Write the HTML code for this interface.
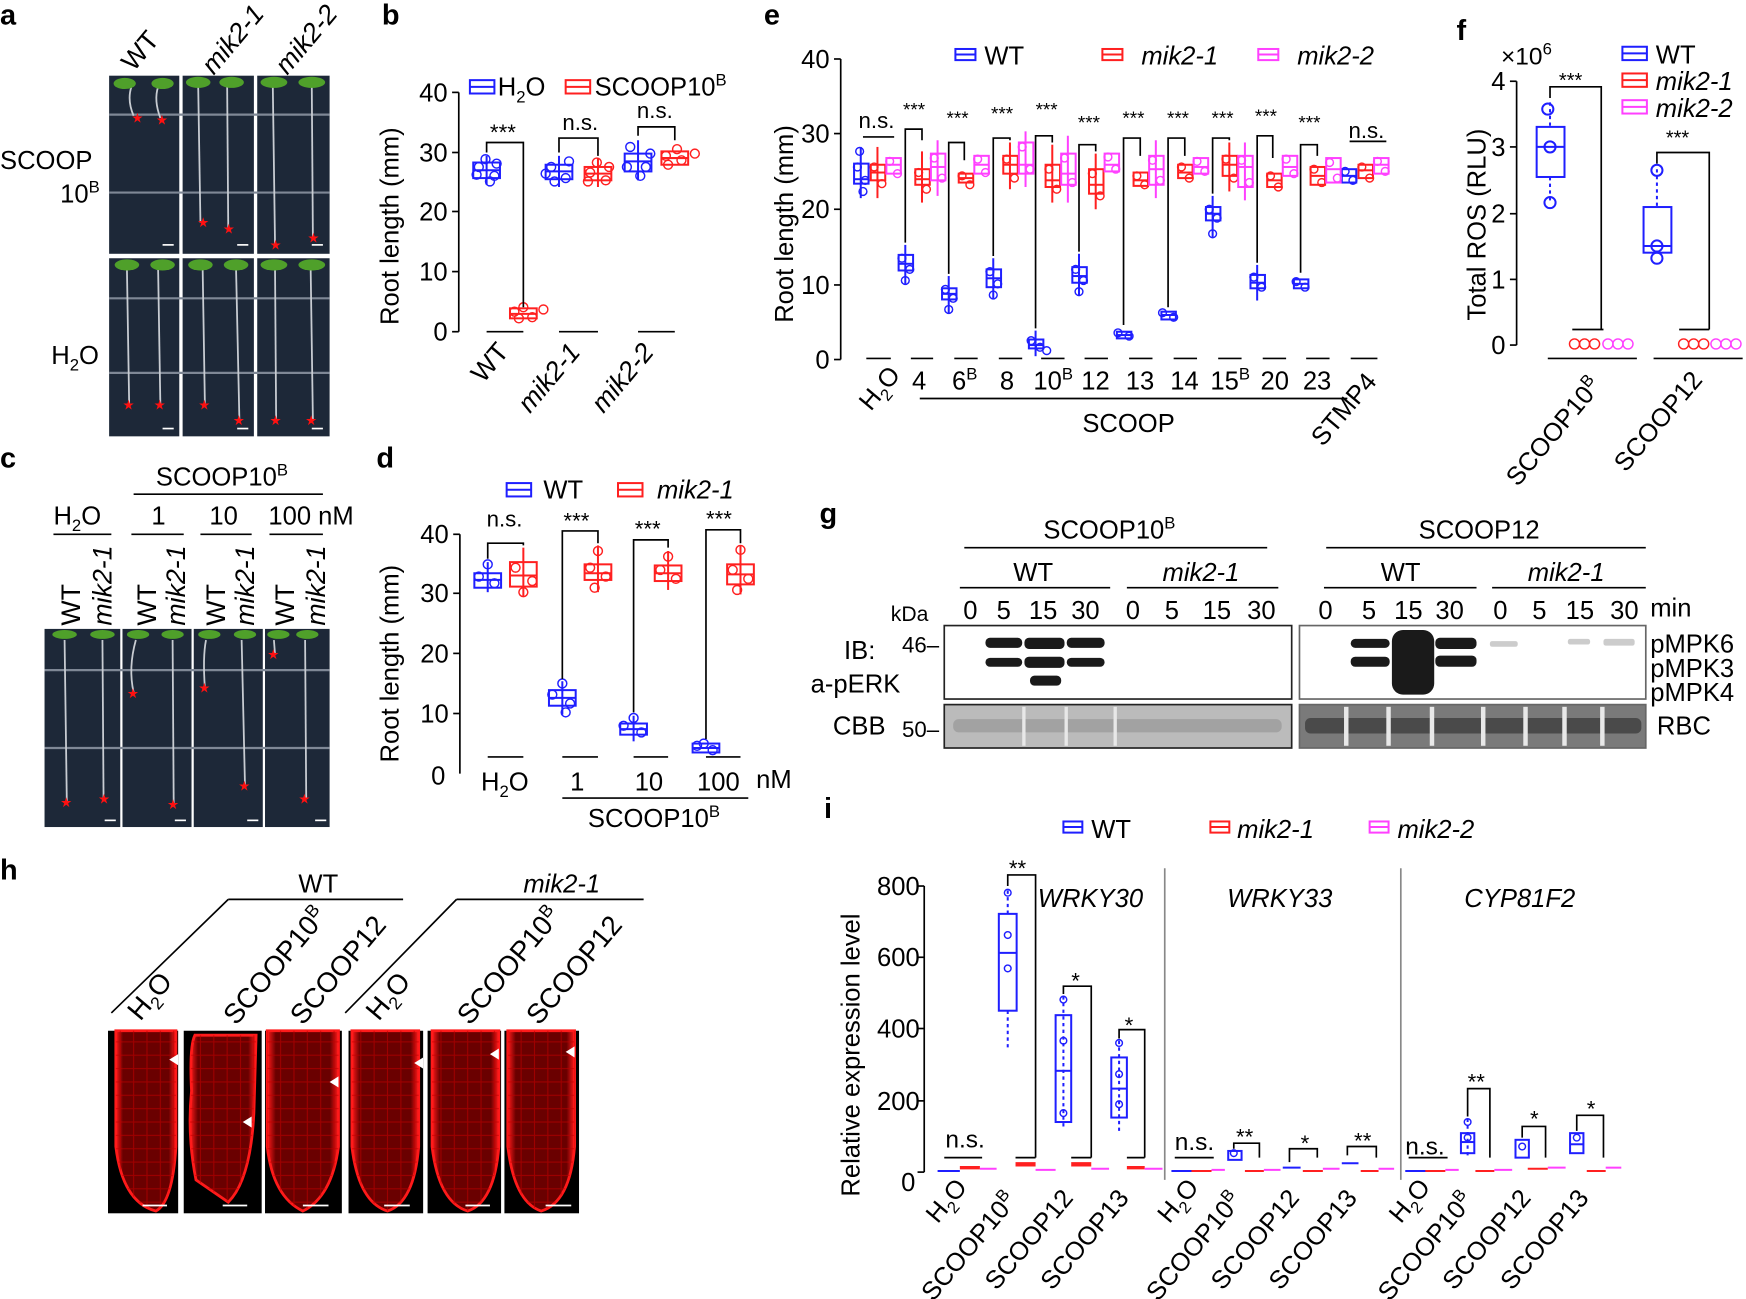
<!DOCTYPE html>
<html><head><meta charset="utf-8"><style>
html,body{margin:0;padding:0;background:#fff}
svg{display:block}
text{font-family:"Liberation Sans",Arial,sans-serif;fill:#000}
.bl{font-weight:bold;font-size:26px}
.ax{font-size:23px}
.sm{font-size:19px}
.it{font-style:italic}
.b{stroke:#1f1fff;fill:none;stroke-width:1.8}
.r{stroke:#ff2020;fill:none;stroke-width:1.8}
.m{stroke:#ff40ff;fill:none;stroke-width:1.8}
.k{stroke:#000;fill:none;stroke-width:1.5}
.g{stroke:#888;fill:none;stroke-width:1.5}
.bc circle{stroke:#1f1fff;fill:none;stroke-width:1.3}
.rc circle{stroke:#ff2020;fill:none;stroke-width:1.3}
.mc circle{stroke:#ff40ff;fill:none;stroke-width:1.3}
</style></head><body>
<svg width="1746" height="1299" viewBox="0 0 1568 1167" preserveAspectRatio="none">
<defs>
<linearGradient id="rg" x1="0" x2="1"><stop offset="0" stop-color="#ff1a1a"/><stop offset=".12" stop-color="#6a0000"/><stop offset=".88" stop-color="#6a0000"/><stop offset="1" stop-color="#ff1a1a"/></linearGradient>
<pattern id="cells" width="12" height="12" patternUnits="userSpaceOnUse"><rect width="12" height="12" fill="none" stroke="#c00000" stroke-width="1"/></pattern>
</defs>
<!-- panel letters -->
<text class="bl" x="0" y="22">a</text><text class="bl" x="343" y="22">b</text><text class="bl" x="686" y="22">e</text><text class="bl" x="1308" y="36">f</text>
<text class="bl" x="0" y="420">c</text><text class="bl" x="338" y="420">d</text><text class="bl" x="736" y="470">g</text>
<text class="bl" x="0" y="790">h</text><text class="bl" x="740" y="735">i</text>

<!-- panel a -->
<g class="it" font-size="24"><text transform="translate(120,65) rotate(-50)" style="font-style:normal">WT</text><text transform="translate(192,68) rotate(-50)">mik2-1</text><text transform="translate(258,68) rotate(-50)">mik2-2</text></g>
<text class="ax" x="0" y="152">SCOOP</text><text class="ax" x="54" y="182">10<tspan font-size="15" dy="-9">B</tspan></text>
<text class="ax" x="46" y="327">H<tspan font-size="15" dy="6">2</tspan><tspan dy="-6">O</tspan></text>
<g fill="#1d2838">
<rect x="98" y="68" width="63" height="160"/><rect x="164" y="68" width="64" height="160"/><rect x="231" y="68" width="65" height="160"/>
<rect x="98" y="232" width="63" height="160"/><rect x="164" y="232" width="64" height="160"/><rect x="231" y="232" width="65" height="160"/>
<rect x="40" y="565" width="68" height="178"/><rect x="110" y="565" width="62" height="178"/><rect x="174" y="565" width="62" height="178"/><rect x="238" y="565" width="58" height="178"/>
</g>
<g stroke="#7f8896" stroke-width="2">
<line x1="98" y1="103" x2="296" y2="103"/><line x1="98" y1="173" x2="296" y2="173"/>
<line x1="98" y1="268" x2="296" y2="268"/><line x1="98" y1="335" x2="296" y2="335"/>
<line x1="40" y1="602" x2="296" y2="602"/><line x1="40" y1="672" x2="296" y2="672"/>
</g>
<g stroke="#c8ccd2" stroke-width="1.6" fill="none">
<path d="M118 78 Q114 90 120 104"/><path d="M142 78 Q138 90 144 106"/>
<path d="M178 78 L180 200"/><path d="M204 78 L205 208"/><path d="M245 78 L247 220"/><path d="M280 78 L281 214"/>
<path d="M114 242 L116 363"/><path d="M142 242 L144 363"/><path d="M182 242 L184 363"/><path d="M212 242 L215 378"/><path d="M247 242 L248 378"/><path d="M279 242 L281 378"/>
<path d="M58 575 L60 720"/><path d="M92 575 L93 718"/><path d="M122 575 Q115 600 120 622"/><path d="M155 575 L156 723"/><path d="M185 575 Q182 590 184 618"/><path d="M217 575 L220 705"/><path d="M246 575 L247 588"/><path d="M274 575 L275 718"/>
</g>
<g fill="#4fa02a">
<ellipse cx="112" cy="75" rx="10" ry="5"/><ellipse cx="146" cy="75" rx="10" ry="5"/><ellipse cx="178" cy="74" rx="11" ry="5"/><ellipse cx="208" cy="74" rx="11" ry="5"/><ellipse cx="246" cy="74" rx="12" ry="5"/><ellipse cx="280" cy="74" rx="12" ry="5"/>
<ellipse cx="114" cy="238" rx="11" ry="5"/><ellipse cx="146" cy="238" rx="11" ry="5"/><ellipse cx="180" cy="238" rx="11" ry="5"/><ellipse cx="212" cy="238" rx="11" ry="5"/><ellipse cx="246" cy="238" rx="12" ry="5"/><ellipse cx="280" cy="238" rx="12" ry="5"/>
<ellipse cx="58" cy="570" rx="11" ry="4"/><ellipse cx="92" cy="570" rx="11" ry="4"/><ellipse cx="124" cy="570" rx="10" ry="4"/><ellipse cx="155" cy="570" rx="10" ry="4"/><ellipse cx="188" cy="570" rx="10" ry="4"/><ellipse cx="220" cy="570" rx="10" ry="4"/><ellipse cx="250" cy="570" rx="10" ry="4"/><ellipse cx="276" cy="570" rx="10" ry="4"/>
</g>
<g font-size="12">
<text x="118" y="110" style="fill:#f11">★</text><text x="140" y="112" style="fill:#f11">★</text><text x="177" y="204" style="fill:#f11">★</text><text x="200" y="210" style="fill:#f11">★</text><text x="242" y="224" style="fill:#f11">★</text><text x="276" y="218" style="fill:#f11">★</text>
<text x="110" y="368" style="fill:#f11">★</text><text x="138" y="368" style="fill:#f11">★</text><text x="178" y="368" style="fill:#f11">★</text><text x="209" y="382" style="fill:#f11">★</text><text x="242" y="382" style="fill:#f11">★</text><text x="274" y="382" style="fill:#f11">★</text>
<text x="54" y="725" style="fill:#f11">★</text><text x="88" y="722" style="fill:#f11">★</text><text x="114" y="627" style="fill:#f11">★</text><text x="150" y="727" style="fill:#f11">★</text><text x="178" y="622" style="fill:#f11">★</text><text x="214" y="710" style="fill:#f11">★</text><text x="240" y="592" style="fill:#f11">★</text><text x="268" y="722" style="fill:#f11">★</text>
</g>
<g stroke="#fff" stroke-width="1.5"><line x1="146" y1="220" x2="156" y2="220"/><line x1="213" y1="220" x2="223" y2="220"/><line x1="280" y1="220" x2="290" y2="220"/><line x1="146" y1="385" x2="156" y2="385"/><line x1="213" y1="385" x2="223" y2="385"/><line x1="280" y1="385" x2="290" y2="385"/><line x1="94" y1="737" x2="104" y2="737"/><line x1="157" y1="737" x2="167" y2="737"/><line x1="222" y1="737" x2="232" y2="737"/><line x1="283" y1="737" x2="293" y2="737"/></g>

<!-- panel c labels -->
<text class="ax" x="140" y="436">SCOOP10<tspan font-size="15" dy="-9">B</tspan></text>
<line class="k" x1="120" y1="444" x2="290" y2="444"/>
<text class="ax" x="48" y="471">H<tspan font-size="15" dy="6">2</tspan><tspan dy="-6">O</tspan></text>
<text class="ax" x="136" y="471">1</text><text class="ax" x="188" y="471">10</text><text class="ax" x="241" y="471">100 nM</text>
<g class="k"><line x1="48" y1="480" x2="100" y2="480"/><line x1="118" y1="480" x2="165" y2="480"/><line x1="180" y1="480" x2="226" y2="480"/><line x1="242" y1="480" x2="290" y2="480"/></g>
<g font-size="24"><text transform="translate(72,562) rotate(-90)">WT</text><text class="it" transform="translate(100,562) rotate(-90)">mik2-1</text>
<text transform="translate(140,562) rotate(-90)">WT</text><text class="it" transform="translate(166,562) rotate(-90)">mik2-1</text>
<text transform="translate(202,562) rotate(-90)">WT</text><text class="it" transform="translate(228,562) rotate(-90)">mik2-1</text>
<text transform="translate(264,562) rotate(-90)">WT</text><text class="it" transform="translate(292,562) rotate(-90)">mik2-1</text></g>

<!-- panel b -->
<text class="ax" transform="translate(358,292) rotate(-90)">Root length (mm)</text>
<line class="k" x1="412" y1="83" x2="412" y2="298"/>
<g class="k"><line x1="406" y1="83" x2="412" y2="83"/><line x1="406" y1="137" x2="412" y2="137"/><line x1="406" y1="190" x2="412" y2="190"/><line x1="406" y1="244" x2="412" y2="244"/><line x1="406" y1="298" x2="412" y2="298"/></g>
<g class="ax" text-anchor="end"><text x="402" y="91">40</text><text x="402" y="145">30</text><text x="402" y="198">20</text><text x="402" y="252">10</text><text x="402" y="306">0</text></g>
<rect x="422" y="72" width="22" height="12" class="b"/><line class="b" x1="422" y1="78" x2="444" y2="78"/><text class="ax" x="447" y="86">H<tspan font-size="15" dy="6">2</tspan><tspan dy="-6">O</tspan></text>
<rect x="508" y="72" width="22" height="12" class="r"/><line class="r" x1="508" y1="78" x2="530" y2="78"/><text class="ax" x="534" y="86">SCOOP10<tspan font-size="15" dy="-9">B</tspan></text>
<g class="k"><line x1="437" y1="298" x2="470" y2="298"/><line x1="502" y1="298" x2="537" y2="298"/><line x1="573" y1="298" x2="606" y2="298"/></g>
<g class="b"><rect x="425" y="146" width="24" height="14"/><line x1="425" y1="153" x2="449" y2="153"/><line x1="437" y1="140" x2="437" y2="166"/>
<rect x="490" y="148" width="24" height="13"/><line x1="490" y1="154" x2="514" y2="154"/><line x1="502" y1="140" x2="502" y2="168"/>
<rect x="561" y="138" width="24" height="16"/><line x1="561" y1="145" x2="585" y2="145"/><line x1="573" y1="126" x2="573" y2="162"/></g>
<g class="r"><rect x="458" y="277" width="24" height="9"/><line x1="458" y1="282" x2="482" y2="282"/>
<rect x="525" y="150" width="24" height="12"/><line x1="525" y1="156" x2="549" y2="156"/><line x1="537" y1="142" x2="537" y2="168"/>
<rect x="594" y="136" width="24" height="12"/><line x1="594" y1="142" x2="618" y2="142"/></g>
<g class="bc"><circle cx="430" cy="150" r="4"/><circle cx="444" cy="158" r="4"/><circle cx="436" cy="143" r="4"/><circle cx="440" cy="163" r="4"/><circle cx="428" cy="157" r="4"/><circle cx="446" cy="147" r="4"/><circle cx="495" cy="150" r="4"/><circle cx="508" cy="160" r="4"/><circle cx="498" cy="163" r="4"/><circle cx="511" cy="145" r="4"/><circle cx="490" cy="156" r="4"/><circle cx="566" cy="132" r="4"/><circle cx="580" cy="150" r="4"/><circle cx="563" cy="150" r="4"/><circle cx="584" cy="138" r="4"/><circle cx="575" cy="158" r="4"/></g>
<g class="rc"><circle cx="462" cy="280" r="4"/><circle cx="478" cy="285" r="4"/><circle cx="488" cy="278" r="4"/><circle cx="470" cy="276" r="4"/><circle cx="466" cy="286" r="4"/><circle cx="530" cy="155" r="4"/><circle cx="544" cy="162" r="4"/><circle cx="528" cy="163" r="4"/><circle cx="547" cy="150" r="4"/><circle cx="536" cy="146" r="4"/><circle cx="598" cy="140" r="4"/><circle cx="612" cy="144" r="4"/><circle cx="624" cy="138" r="4"/><circle cx="600" cy="148" r="4"/><circle cx="608" cy="134" r="4"/></g>
<g class="k"><path d="M437 137 V128 H470 V276"/><path d="M502 137 V124 H537 V140"/><path d="M573 122 V114 H606 V126"/></g>
<g font-size="20"><text x="440" y="126">***</text><text x="505" y="117">n.s.</text><text x="572" y="106">n.s.</text></g>
<g font-size="24"><text transform="translate(434,345) rotate(-50)">WT</text><text class="it" transform="translate(476,372) rotate(-50)">mik2-1</text><text class="it" transform="translate(542,372) rotate(-50)">mik2-2</text></g>

<!-- panel d -->
<text class="ax" transform="translate(358,685) rotate(-90)">Root length (mm)</text>
<line class="k" x1="413" y1="480" x2="413" y2="695"/>
<g class="k"><line x1="407" y1="480" x2="413" y2="480"/><line x1="407" y1="533" x2="413" y2="533"/><line x1="407" y1="587" x2="413" y2="587"/><line x1="407" y1="641" x2="413" y2="641"/></g>
<g class="ax" text-anchor="end"><text x="403" y="488">40</text><text x="403" y="541">30</text><text x="403" y="595">20</text><text x="403" y="649">10</text><text x="400" y="705">0</text></g>
<rect x="455" y="434" width="22" height="12" class="b"/><line class="b" x1="455" y1="440" x2="477" y2="440"/><text class="ax" x="488" y="448">WT</text>
<rect x="555" y="434" width="22" height="12" class="r"/><line class="r" x1="555" y1="440" x2="577" y2="440"/><text class="ax it" x="590" y="448">mik2-1</text>
<g class="k"><line x1="438" y1="680" x2="470" y2="680"/><line x1="505" y1="680" x2="537" y2="680"/><line x1="569" y1="680" x2="600" y2="680"/><line x1="634" y1="680" x2="665" y2="680"/></g>
<g class="b"><rect x="426" y="515" width="24" height="13"/><line x1="426" y1="521" x2="450" y2="521"/><line x1="438" y1="505" x2="438" y2="532"/>
<rect x="493" y="620" width="24" height="14"/><line x1="493" y1="627" x2="517" y2="627"/><line x1="505" y1="612" x2="505" y2="642"/>
<rect x="557" y="650" width="24" height="10"/><line x1="557" y1="655" x2="581" y2="655"/><line x1="569" y1="643" x2="569" y2="666"/>
<rect x="622" y="668" width="24" height="8"/><line x1="622" y1="672" x2="646" y2="672"/></g>
<g class="r"><rect x="458" y="505" width="24" height="22"/><line x1="458" y1="517" x2="482" y2="517"/><line x1="470" y1="492" x2="470" y2="536"/>
<rect x="525" y="507" width="24" height="14"/><line x1="525" y1="515" x2="549" y2="515"/><line x1="537" y1="490" x2="537" y2="532"/>
<rect x="588" y="508" width="24" height="14"/><line x1="588" y1="515" x2="612" y2="515"/><line x1="600" y1="495" x2="600" y2="530"/>
<rect x="653" y="507" width="24" height="18"/><line x1="653" y1="516" x2="677" y2="516"/><line x1="665" y1="490" x2="665" y2="534"/></g>
<g class="bc"><circle cx="430" cy="518" r="4"/><circle cx="444" cy="524" r="4"/><circle cx="438" cy="507" r="4"/><circle cx="496" cy="624" r="4"/><circle cx="512" cy="632" r="4"/><circle cx="505" cy="614" r="4"/><circle cx="508" cy="640" r="4"/><circle cx="560" cy="652" r="4"/><circle cx="576" cy="658" r="4"/><circle cx="569" cy="645" r="4"/><circle cx="626" cy="670" r="4"/><circle cx="640" cy="674" r="4"/><circle cx="632" cy="668" r="4"/></g>
<g class="rc"><circle cx="463" cy="510" r="4"/><circle cx="478" cy="522" r="4"/><circle cx="470" cy="532" r="4"/><circle cx="530" cy="510" r="4"/><circle cx="544" cy="518" r="4"/><circle cx="537" cy="495" r="4"/><circle cx="534" cy="528" r="4"/><circle cx="593" cy="512" r="4"/><circle cx="607" cy="520" r="4"/><circle cx="600" cy="500" r="4"/><circle cx="658" cy="512" r="4"/><circle cx="672" cy="520" r="4"/><circle cx="665" cy="494" r="4"/><circle cx="662" cy="530" r="4"/></g>
<g class="k"><path d="M438 502 V488 H470 V490"/><path d="M505 610 V477 H537 V488"/><path d="M569 640 V485 H600 V492"/><path d="M634 664 V476 H665 V488"/></g>
<g font-size="20"><text x="437" y="473">n.s.</text><text x="506" y="475">***</text><text x="570" y="482">***</text><text x="634" y="473">***</text></g>
<text class="ax" x="432" y="710">H<tspan font-size="15" dy="6">2</tspan><tspan dy="-6">O</tspan></text>
<text class="ax" x="512" y="710">1</text><text class="ax" x="570" y="710">10</text><text class="ax" x="626" y="710">100</text><text class="ax" x="679" y="708">nM</text>
<line class="k" x1="505" y1="717" x2="672" y2="717"/>
<text class="ax" x="528" y="743">SCOOP10<tspan font-size="15" dy="-9">B</tspan></text>

<!-- panel e -->
<text class="ax" transform="translate(712,290) rotate(-90)">Root length (mm)</text>
<line class="k" x1="755" y1="53" x2="755" y2="323"/>
<g class="k"><line x1="749" y1="53" x2="755" y2="53"/><line x1="749" y1="120" x2="755" y2="120"/><line x1="749" y1="188" x2="755" y2="188"/><line x1="749" y1="256" x2="755" y2="256"/><line x1="749" y1="323" x2="755" y2="323"/></g>
<g class="ax" text-anchor="end"><text x="745" y="61">40</text><text x="745" y="128">30</text><text x="745" y="196">20</text><text x="745" y="264">10</text><text x="745" y="331">0</text></g>
<rect x="858" y="44" width="18" height="10" class="b"/><line class="b" x1="858" y1="49" x2="876" y2="49"/><text class="ax" x="884" y="58">WT</text>
<rect x="990" y="44" width="18" height="10" class="r"/><line class="r" x1="990" y1="49" x2="1008" y2="49"/><text class="ax it" x="1025" y="58">mik2-1</text>
<rect x="1130" y="44" width="18" height="10" class="m"/><line class="m" x1="1130" y1="49" x2="1148" y2="49"/><text class="ax it" x="1165" y="58">mik2-2</text>
<g class="b">
<rect x="767" y="147" width="13" height="18"/><line x1="767" y1="161" x2="780" y2="161"/><line x1="773" y1="132" x2="773" y2="178"/>
<rect x="807" y="229" width="13" height="14"/><line x1="807" y1="237" x2="820" y2="237"/><line x1="813" y1="220" x2="813" y2="255"/>
<rect x="846" y="259" width="13" height="10"/><line x1="846" y1="264" x2="859" y2="264"/><line x1="852" y1="248" x2="852" y2="282"/>
<rect x="886" y="242" width="13" height="16"/><line x1="886" y1="250" x2="899" y2="250"/><line x1="892" y1="232" x2="892" y2="268"/>
<rect x="924" y="305" width="13" height="8"/><line x1="924" y1="310" x2="937" y2="310"/><line x1="930" y1="297" x2="930" y2="320"/>
<rect x="963" y="240" width="13" height="14"/><line x1="963" y1="248" x2="976" y2="248"/><line x1="969" y1="228" x2="969" y2="266"/>
<rect x="1003" y="298" width="13" height="6"/><line x1="1003" y1="301" x2="1016" y2="301"/>
<rect x="1043" y="280" width="13" height="7"/><line x1="1043" y1="283" x2="1056" y2="283"/>
<rect x="1083" y="186" width="13" height="12"/><line x1="1083" y1="192" x2="1096" y2="192"/><line x1="1089" y1="176" x2="1089" y2="214"/>
<rect x="1123" y="247" width="13" height="12"/><line x1="1123" y1="254" x2="1136" y2="254"/><line x1="1129" y1="238" x2="1129" y2="270"/>
<rect x="1162" y="251" width="13" height="8"/><line x1="1162" y1="255" x2="1175" y2="255"/>
<rect x="1205" y="152" width="13" height="12"/><line x1="1205" y1="158" x2="1218" y2="158"/>
</g>
<g class="bc">
<circle cx="770" cy="150" r="3.5"/><circle cx="777" cy="162" r="3.5"/><circle cx="772" cy="136" r="3.5"/><circle cx="775" cy="172" r="3.5"/>
<circle cx="810" cy="232" r="3.5"/><circle cx="817" cy="242" r="3.5"/><circle cx="813" cy="252" r="3.5"/>
<circle cx="849" cy="260" r="3.5"/><circle cx="856" cy="268" r="3.5"/><circle cx="852" cy="278" r="3.5"/>
<circle cx="889" cy="244" r="3.5"/><circle cx="896" cy="255" r="3.5"/><circle cx="892" cy="265" r="3.5"/>
<circle cx="926" cy="306" r="3.5"/><circle cx="934" cy="312" r="3.5"/><circle cx="940" cy="315" r="3.5"/>
<circle cx="966" cy="242" r="3.5"/><circle cx="973" cy="252" r="3.5"/><circle cx="969" cy="262" r="3.5"/>
<circle cx="1004" cy="299" r="3.5"/><circle cx="1014" cy="302" r="3.5"/><circle cx="1044" cy="281" r="3.5"/><circle cx="1054" cy="285" r="3.5"/>
<circle cx="1086" cy="188" r="3.5"/><circle cx="1093" cy="196" r="3.5"/><circle cx="1089" cy="210" r="3.5"/>
<circle cx="1126" cy="249" r="3.5"/><circle cx="1133" cy="258" r="3.5"/><circle cx="1164" cy="253" r="3.5"/><circle cx="1172" cy="258" r="3.5"/>
<circle cx="1208" cy="154" r="3.5"/><circle cx="1215" cy="162" r="3.5"/></g>
<g class="r">
<rect x="782" y="148" width="13" height="14"/><line x1="782" y1="155" x2="795" y2="155"/><line x1="788" y1="132" x2="788" y2="178"/>
<rect x="822" y="152" width="13" height="14"/><line x1="822" y1="161" x2="835" y2="161"/><line x1="828" y1="136" x2="828" y2="182"/>
<rect x="861" y="156" width="13" height="8"/><line x1="861" y1="160" x2="874" y2="160"/>
<rect x="901" y="140" width="13" height="16"/><line x1="901" y1="148" x2="914" y2="148"/><line x1="907" y1="128" x2="907" y2="170"/>
<rect x="939" y="148" width="13" height="20"/><line x1="939" y1="162" x2="952" y2="162"/><line x1="945" y1="130" x2="945" y2="182"/>
<rect x="978" y="152" width="13" height="22"/><line x1="978" y1="166" x2="991" y2="166"/><line x1="984" y1="138" x2="984" y2="188"/>
<rect x="1018" y="155" width="13" height="12"/><line x1="1018" y1="162" x2="1031" y2="162"/>
<rect x="1058" y="148" width="13" height="12"/><line x1="1058" y1="155" x2="1071" y2="155"/>
<rect x="1098" y="140" width="13" height="18"/><line x1="1098" y1="148" x2="1111" y2="148"/><line x1="1104" y1="128" x2="1104" y2="172"/>
<rect x="1138" y="156" width="13" height="12"/><line x1="1138" y1="162" x2="1151" y2="162"/>
<rect x="1177" y="150" width="13" height="16"/><line x1="1177" y1="158" x2="1190" y2="158"/>
<rect x="1220" y="148" width="13" height="12"/><line x1="1220" y1="153" x2="1233" y2="153"/>
</g>
<g class="rc">
<circle cx="785" cy="150" r="3.5"/><circle cx="792" cy="165" r="3.5"/><circle cx="825" cy="155" r="3.5"/><circle cx="832" cy="170" r="3.5"/><circle cx="864" cy="158" r="3.5"/><circle cx="871" cy="166" r="3.5"/>
<circle cx="904" cy="143" r="3.5"/><circle cx="911" cy="160" r="3.5"/><circle cx="942" cy="152" r="3.5"/><circle cx="949" cy="170" r="3.5"/><circle cx="981" cy="156" r="3.5"/><circle cx="988" cy="176" r="3.5"/>
<circle cx="1021" cy="158" r="3.5"/><circle cx="1028" cy="166" r="3.5"/><circle cx="1061" cy="150" r="3.5"/><circle cx="1068" cy="160" r="3.5"/><circle cx="1101" cy="143" r="3.5"/><circle cx="1108" cy="160" r="3.5"/>
<circle cx="1141" cy="158" r="3.5"/><circle cx="1148" cy="168" r="3.5"/><circle cx="1180" cy="152" r="3.5"/><circle cx="1187" cy="164" r="3.5"/><circle cx="1223" cy="150" r="3.5"/><circle cx="1230" cy="160" r="3.5"/></g>
<g class="m">
<rect x="796" y="142" width="13" height="14"/><line x1="796" y1="148" x2="809" y2="148"/>
<rect x="836" y="138" width="13" height="24"/><line x1="836" y1="150" x2="849" y2="150"/><line x1="842" y1="126" x2="842" y2="176"/>
<rect x="875" y="140" width="13" height="16"/><line x1="875" y1="148" x2="888" y2="148"/>
<rect x="915" y="128" width="13" height="28"/><line x1="915" y1="148" x2="928" y2="148"/><line x1="921" y1="118" x2="921" y2="168"/>
<rect x="953" y="138" width="13" height="28"/><line x1="953" y1="156" x2="966" y2="156"/><line x1="959" y1="122" x2="959" y2="182"/>
<rect x="992" y="138" width="13" height="16"/><line x1="992" y1="148" x2="1005" y2="148"/>
<rect x="1032" y="140" width="13" height="26"/><line x1="1032" y1="152" x2="1045" y2="152"/><line x1="1038" y1="126" x2="1038" y2="178"/>
<rect x="1072" y="142" width="13" height="14"/><line x1="1072" y1="150" x2="1085" y2="150"/>
<rect x="1112" y="140" width="13" height="28"/><line x1="1112" y1="150" x2="1125" y2="150"/><line x1="1118" y1="128" x2="1118" y2="180"/>
<rect x="1152" y="140" width="13" height="18"/><line x1="1152" y1="150" x2="1165" y2="150"/>
<rect x="1191" y="142" width="13" height="22"/><line x1="1191" y1="152" x2="1204" y2="152"/>
<rect x="1234" y="142" width="13" height="14"/><line x1="1234" y1="148" x2="1247" y2="148"/>
</g>
<g class="mc">
<circle cx="799" cy="145" r="3.5"/><circle cx="806" cy="156" r="3.5"/><circle cx="839" cy="142" r="3.5"/><circle cx="846" cy="160" r="3.5"/><circle cx="878" cy="143" r="3.5"/><circle cx="885" cy="155" r="3.5"/>
<circle cx="918" cy="132" r="3.5"/><circle cx="925" cy="152" r="3.5"/><circle cx="956" cy="142" r="3.5"/><circle cx="963" cy="164" r="3.5"/><circle cx="995" cy="141" r="3.5"/><circle cx="1002" cy="152" r="3.5"/>
<circle cx="1035" cy="144" r="3.5"/><circle cx="1042" cy="162" r="3.5"/><circle cx="1075" cy="145" r="3.5"/><circle cx="1082" cy="154" r="3.5"/><circle cx="1115" cy="144" r="3.5"/><circle cx="1122" cy="164" r="3.5"/>
<circle cx="1155" cy="143" r="3.5"/><circle cx="1162" cy="156" r="3.5"/><circle cx="1194" cy="146" r="3.5"/><circle cx="1201" cy="160" r="3.5"/><circle cx="1237" cy="145" r="3.5"/><circle cx="1244" cy="154" r="3.5"/></g>
<g class="k">
<path d="M813 218 V116 H828 V126"/><path d="M852 246 V128 H866 V144"/><path d="M892 230 V124 H907 V126"/><path d="M930 295 V122 H945 V128"/>
<path d="M969 226 V130 H984 V136"/><path d="M1009 292 V124 H1024 V140"/><path d="M1049 276 V124 H1064 V140"/><path d="M1089 174 V124 H1104 V126"/>
<path d="M1129 236 V122 H1143 V142"/><path d="M1168 245 V130 H1183 V140"/>
<line x1="775" y1="123" x2="803" y2="123"/><line x1="1212" y1="127" x2="1245" y2="127"/>
</g>
<g font-size="17"><text x="811" y="104">***</text><text x="850" y="112">***</text><text x="890" y="108">***</text><text x="930" y="104">***</text><text x="968" y="116">***</text><text x="1008" y="112">***</text><text x="1048" y="112">***</text><text x="1088" y="112">***</text><text x="1127" y="110">***</text><text x="1166" y="116">***</text></g>
<text font-size="20" x="771" y="115">n.s.</text><text font-size="20" x="1211" y="124">n.s.</text>
<g class="k"><line x1="778" y1="322" x2="800" y2="322"/><line x1="818" y1="322" x2="838" y2="322"/><line x1="857" y1="322" x2="878" y2="322"/><line x1="897" y1="322" x2="918" y2="322"/><line x1="935" y1="322" x2="956" y2="322"/><line x1="974" y1="322" x2="995" y2="322"/><line x1="1014" y1="322" x2="1035" y2="322"/><line x1="1054" y1="322" x2="1075" y2="322"/><line x1="1094" y1="322" x2="1115" y2="322"/><line x1="1134" y1="322" x2="1155" y2="322"/><line x1="1173" y1="322" x2="1194" y2="322"/><line x1="1213" y1="322" x2="1237" y2="322"/></g>
<text class="ax" transform="translate(782,370) rotate(-50)">H<tspan font-size="15" dy="6">2</tspan><tspan dy="-6">O</tspan></text>
<g class="ax"><text x="819" y="350">4</text><text x="855" y="350">6<tspan font-size="15" dy="-9">B</tspan></text><text x="898" y="350">8</text><text x="928" y="350">10<tspan font-size="15" dy="-9">B</tspan></text><text x="971" y="350">12</text><text x="1011" y="350">13</text><text x="1051" y="350">14</text><text x="1087" y="350">15<tspan font-size="15" dy="-9">B</tspan></text><text x="1132" y="350">20</text><text x="1170" y="350">23</text></g>
<line class="k" x1="826" y1="358" x2="1210" y2="358"/>
<text class="ax" x="972" y="388">SCOOP</text>
<text class="ax" transform="translate(1188,402) rotate(-50)">STMP4</text>

<!-- panel f -->
<text font-size="22" x="1348" y="58">×10<tspan font-size="15" dy="-9">6</tspan></text>
<text class="ax" transform="translate(1334,288) rotate(-90)">Total ROS (RLU)</text>
<line class="k" x1="1362" y1="73" x2="1362" y2="310"/>
<g class="k"><line x1="1356" y1="73" x2="1362" y2="73"/><line x1="1356" y1="132" x2="1362" y2="132"/><line x1="1356" y1="192" x2="1362" y2="192"/><line x1="1356" y1="251" x2="1362" y2="251"/><line x1="1356" y1="310" x2="1362" y2="310"/></g>
<g class="ax" text-anchor="end"><text x="1352" y="81">4</text><text x="1352" y="140">3</text><text x="1352" y="200">2</text><text x="1352" y="259">1</text><text x="1352" y="318">0</text></g>
<rect x="1457" y="42" width="22" height="12" class="b"/><line class="b" x1="1457" y1="48" x2="1479" y2="48"/><text class="ax" x="1487" y="57">WT</text>
<rect x="1457" y="66" width="22" height="12" class="r"/><line class="r" x1="1457" y1="72" x2="1479" y2="72"/><text class="ax it" x="1487" y="81">mik2-1</text>
<rect x="1457" y="90" width="22" height="12" class="m"/><line class="m" x1="1457" y1="96" x2="1479" y2="96"/><text class="ax it" x="1487" y="105">mik2-2</text>
<g class="b"><rect x="1380" y="114" width="25" height="45"/><line x1="1380" y1="132" x2="1405" y2="132"/><line x1="1392" y1="92" x2="1392" y2="114" stroke-dasharray="3,3"/><line x1="1392" y1="159" x2="1392" y2="182" stroke-dasharray="3,3"/>
<circle cx="1390" cy="98" r="5"/><circle cx="1392" cy="132" r="5"/><circle cx="1392" cy="182" r="5"/>
<rect x="1476" y="186" width="25" height="41"/><line x1="1476" y1="221" x2="1501" y2="221"/><line x1="1488" y1="152" x2="1488" y2="186" stroke-dasharray="3,3"/>
<circle cx="1488" cy="153" r="5"/><circle cx="1488" cy="221" r="5"/><circle cx="1488" cy="232" r="5"/></g>
<g class="rc"><circle cx="1414" cy="309" r="4.5"/><circle cx="1423" cy="309" r="4.5"/><circle cx="1432" cy="309" r="4.5"/><circle cx="1512" cy="309" r="4.5"/><circle cx="1521" cy="309" r="4.5"/><circle cx="1530" cy="309" r="4.5"/></g>
<g class="mc"><circle cx="1444" cy="309" r="4.5"/><circle cx="1453" cy="309" r="4.5"/><circle cx="1462" cy="309" r="4.5"/><circle cx="1541" cy="309" r="4.5"/><circle cx="1550" cy="309" r="4.5"/><circle cx="1559" cy="309" r="4.5"/></g>
<g class="k"><path d="M1392 88 V78 H1438 V296"/><path d="M1488 147 V137 H1535 V296"/><line x1="1412" y1="296" x2="1440" y2="296"/><line x1="1508" y1="296" x2="1535" y2="296"/>
<line x1="1390" y1="322" x2="1470" y2="322"/><line x1="1485" y1="322" x2="1565" y2="322"/></g>
<g font-size="18"><text x="1400" y="78">***</text><text x="1496" y="130">***</text></g>
<text class="ax" transform="translate(1363,438) rotate(-50)">SCOOP10<tspan font-size="15" dy="-9">B</tspan></text>
<text class="ax" transform="translate(1460,425) rotate(-50)">SCOOP12</text>

<!-- panel g -->
<text class="ax" x="937" y="484">SCOOP10<tspan font-size="15" dy="-9">B</tspan></text><text class="ax" x="1274" y="484">SCOOP12</text>
<g class="k"><line x1="866" y1="492" x2="1138" y2="492"/><line x1="1191" y1="492" x2="1478" y2="492"/>
<line x1="862" y1="528" x2="997" y2="528"/><line x1="1012" y1="528" x2="1148" y2="528"/><line x1="1189" y1="528" x2="1326" y2="528"/><line x1="1340" y1="528" x2="1478" y2="528"/></g>
<text class="ax" x="910" y="522">WT</text><text class="ax it" x="1044" y="522">mik2-1</text><text class="ax" x="1240" y="522">WT</text><text class="ax it" x="1372" y="522">mik2-1</text>
<text font-size="19" x="800" y="558">kDa</text>
<g class="ax"><text x="865" y="556">0</text><text x="895" y="556">5</text><text x="924" y="556">15</text><text x="962" y="556">30</text><text x="1011" y="556">0</text><text x="1046" y="556">5</text><text x="1080" y="556">15</text><text x="1120" y="556">30</text>
<text x="1184" y="556">0</text><text x="1223" y="556">5</text><text x="1252" y="556">15</text><text x="1289" y="556">30</text><text x="1341" y="556">0</text><text x="1376" y="556">5</text><text x="1406" y="556">15</text><text x="1446" y="556">30</text><text x="1482" y="554">min</text></g>
<rect x="848" y="562" width="312" height="66" fill="#fff" stroke="#222" stroke-width="1.5"/>
<rect x="1167" y="562" width="311" height="66" fill="#fff" stroke="#666" stroke-width="1.5"/>
<g fill="#1a1a1a"><rect x="885" y="573" width="33" height="9" rx="4"/><rect x="920" y="573" width="36" height="10" rx="4"/><rect x="958" y="573" width="34" height="9" rx="4"/>
<rect x="885" y="591" width="33" height="8" rx="4"/><rect x="920" y="590" width="36" height="10" rx="4"/><rect x="958" y="591" width="34" height="8" rx="4"/><rect x="925" y="607" width="28" height="9" rx="4"/>
<rect x="1213" y="574" width="35" height="8" rx="4"/><rect x="1213" y="590" width="35" height="9" rx="4"/><rect x="1250" y="566" width="38" height="58" rx="10"/><rect x="1289" y="573" width="37" height="10" rx="4"/><rect x="1289" y="589" width="37" height="10" rx="4"/></g>
<g fill="#ccc"><rect x="1338" y="576" width="25" height="5" rx="2"/><rect x="1408" y="574" width="20" height="5" rx="2"/><rect x="1440" y="574" width="28" height="6" rx="2"/></g>
<rect x="848" y="633" width="312" height="39" fill="#bbb" stroke="#222" stroke-width="1.5"/>
<rect x="1167" y="633" width="311" height="39" fill="#7a7a7a" stroke="#666" stroke-width="1.5"/>
<g fill="#a2a2a2"><rect x="856" y="646" width="295" height="12" rx="5"/></g>
<g fill="#4a4a4a"><rect x="1172" y="645" width="302" height="14" rx="5"/></g>
<g fill="#e8e8e8"><rect x="1207" y="635" width="4" height="35"/><rect x="1245" y="635" width="4" height="35"/><rect x="1284" y="635" width="4" height="35"/><rect x="1330" y="635" width="4" height="35"/><rect x="1368" y="635" width="4" height="35"/><rect x="1403" y="635" width="4" height="35"/><rect x="1437" y="635" width="4" height="35"/>
<rect x="918" y="635" width="3" height="35"/><rect x="956" y="635" width="3" height="35"/><rect x="1000" y="635" width="3" height="35"/></g>
<text class="ax" x="758" y="592">IB:</text><text font-size="20" x="810" y="586">46–</text><text class="ax" x="728" y="622">a-pERK</text>
<text class="ax" x="748" y="660">CBB</text><text font-size="20" x="810" y="662">50–</text>
<g class="ax"><text x="1482" y="586">pMPK6</text><text x="1482" y="608">pMPK3</text><text x="1482" y="630">pMPK4</text><text x="1488" y="660">RBC</text></g>

<!-- panel h -->
<text class="ax" x="268" y="802">WT</text><text class="ax it" x="470" y="802">mik2-1</text>
<g class="k"><line x1="205" y1="808" x2="362" y2="808"/><line x1="410" y1="808" x2="578" y2="808"/><line x1="100" y1="910" x2="205" y2="808"/><line x1="310" y1="910" x2="410" y2="808"/></g>
<g font-size="25"><text transform="translate(126,918) rotate(-50)">H<tspan font-size="16" dy="6">2</tspan><tspan dy="-6">O</tspan></text><text transform="translate(212,922) rotate(-50)">SCOOP10<tspan font-size="16" dy="-9">B</tspan></text><text transform="translate(272,922) rotate(-50)">SCOOP12</text>
<text transform="translate(340,918) rotate(-50)">H<tspan font-size="16" dy="6">2</tspan><tspan dy="-6">O</tspan></text><text transform="translate(422,922) rotate(-50)">SCOOP10<tspan font-size="16" dy="-9">B</tspan></text><text transform="translate(484,922) rotate(-50)">SCOOP12</text></g>
<g fill="#000"><rect x="97" y="926" width="63" height="164"/><rect x="165" y="926" width="70" height="164"/><rect x="238" y="926" width="69" height="164"/><rect x="313" y="926" width="67" height="164"/><rect x="384" y="926" width="66" height="164"/><rect x="453" y="926" width="67" height="164"/></g>
<g id="rootshapes" stroke="#ff1a1a" stroke-width="2.5">
<path fill="url(#rg)" d="M104 926 V1030 Q110 1080 140 1088 Q155 1080 158 1030 V926Z"/>
<path fill="url(#rg)" d="M175 930 Q170 940 172 980 Q168 1020 176 1060 L205 1080 Q225 1060 228 1000 L230 930Z"/>
<path fill="url(#rg)" d="M240 926 V1030 Q245 1075 272 1088 Q298 1075 304 1030 V926Z"/>
<path fill="url(#rg)" d="M316 926 V1030 Q322 1080 348 1088 Q372 1080 376 1030 V926Z"/>
<path fill="url(#rg)" d="M388 926 V1030 Q394 1080 420 1088 Q444 1080 448 1030 V926Z"/>
<path fill="url(#rg)" d="M456 926 V1030 Q462 1080 486 1088 Q512 1080 516 1030 V926Z"/>
</g>
<g fill="url(#cells)" opacity="0.6" stroke="none">
<path d="M104 926 V1030 Q110 1080 140 1088 Q155 1080 158 1030 V926Z"/>
<path d="M175 930 Q170 940 172 980 Q168 1020 176 1060 L205 1080 Q225 1060 228 1000 L230 930Z"/>
<path d="M240 926 V1030 Q245 1075 272 1088 Q298 1075 304 1030 V926Z"/>
<path d="M316 926 V1030 Q322 1080 348 1088 Q372 1080 376 1030 V926Z"/>
<path d="M388 926 V1030 Q394 1080 420 1088 Q444 1080 448 1030 V926Z"/>
<path d="M456 926 V1030 Q462 1080 486 1088 Q512 1080 516 1030 V926Z"/>
</g>
<g fill="#fff"><path d="M152 952 l8 -5 v10z"/><path d="M218 1008 l8 -5 v10z"/><path d="M296 972 l8 -5 v10z"/><path d="M372 955 l8 -5 v10z"/><path d="M440 947 l8 -5 v10z"/><path d="M508 945 l8 -5 v10z"/></g>
<g stroke="#fff" stroke-width="1.5"><line x1="128" y1="1083" x2="150" y2="1083"/><line x1="200" y1="1083" x2="222" y2="1083"/><line x1="272" y1="1083" x2="295" y2="1083"/><line x1="345" y1="1083" x2="368" y2="1083"/><line x1="418" y1="1083" x2="440" y2="1083"/><line x1="490" y1="1083" x2="513" y2="1083"/></g>

<!-- panel i -->
<rect x="955" y="738" width="17" height="10" class="b"/><line class="b" x1="955" y1="743" x2="972" y2="743"/><text class="ax" x="980" y="753">WT</text>
<rect x="1087" y="738" width="17" height="10" class="r"/><line class="r" x1="1087" y1="743" x2="1104" y2="743"/><text class="ax it" x="1111" y="753">mik2-1</text>
<rect x="1230" y="738" width="17" height="10" class="m"/><line class="m" x1="1230" y1="743" x2="1247" y2="743"/><text class="ax it" x="1255" y="753">mik2-2</text>
<text class="ax" transform="translate(772,1075) rotate(-90)">Relative expression level</text>
<line class="k" x1="830" y1="796" x2="830" y2="1053"/>
<g class="k"><line x1="824" y1="796" x2="830" y2="796"/><line x1="824" y1="860" x2="830" y2="860"/><line x1="824" y1="924" x2="830" y2="924"/><line x1="824" y1="989" x2="830" y2="989"/><line x1="824" y1="1053" x2="830" y2="1053"/></g>
<g class="ax" text-anchor="end"><text x="826" y="804">800</text><text x="826" y="868">600</text><text x="826" y="932">400</text><text x="826" y="997">200</text><text x="822" y="1070">0</text></g>
<g class="ax it"><text x="932" y="815">WRKY30</text><text x="1102" y="815">WRKY33</text><text x="1315" y="815">CYP81F2</text></g>
<g class="g"><line x1="1046" y1="780" x2="1046" y2="1060"/><line x1="1258" y1="780" x2="1258" y2="1060"/></g>
<g class="b">
<rect x="897" y="821" width="16" height="87"/><line x1="897" y1="856" x2="913" y2="856"/><line x1="905" y1="800" x2="905" y2="821" stroke-dasharray="3,3"/><line x1="905" y1="908" x2="905" y2="942" stroke-dasharray="3,3"/>
<rect x="948" y="912" width="14" height="96"/><line x1="948" y1="962" x2="962" y2="962"/><line x1="955" y1="895" x2="955" y2="1015" stroke-dasharray="3,3"/>
<rect x="998" y="950" width="14" height="54"/><line x1="998" y1="978" x2="1012" y2="978"/><line x1="1005" y1="935" x2="1005" y2="1018" stroke-dasharray="3,3"/>
<rect x="1103" y="1034" width="12" height="8"/><rect x="1312" y="1018" width="12" height="18"/><line x1="1312" y1="1026" x2="1324" y2="1026"/><line x1="1318" y1="1005" x2="1318" y2="1040" stroke-dasharray="3,3"/>
<rect x="1361" y="1024" width="12" height="16"/><rect x="1410" y="1018" width="12" height="18"/><line x1="1410" y1="1028" x2="1422" y2="1028"/>
<line x1="842" y1="1052" x2="862" y2="1052"/><line x1="1052" y1="1052" x2="1072" y2="1052"/><line x1="1152" y1="1049" x2="1168" y2="1049"/><line x1="1205" y1="1045" x2="1220" y2="1045"/><line x1="1262" y1="1052" x2="1282" y2="1052"/>
</g>
<g class="bc"><circle cx="905" cy="802" r="3"/><circle cx="905" cy="840" r="3"/><circle cx="905" cy="870" r="3"/><circle cx="955" cy="898" r="3"/><circle cx="955" cy="935" r="3"/><circle cx="955" cy="1000" r="3"/><circle cx="1005" cy="937" r="3"/><circle cx="1005" cy="965" r="3"/><circle cx="1005" cy="992" r="3"/><circle cx="1318" cy="1008" r="3"/><circle cx="1318" cy="1022" r="3"/><circle cx="1367" cy="1030" r="3"/><circle cx="1416" cy="1022" r="3"/><circle cx="1108" cy="1036" r="3"/></g>
<g class="r"><line x1="862" y1="1049" x2="880" y2="1049" stroke-width="3"/><line x1="912" y1="1046" x2="930" y2="1046" stroke-width="4"/><line x1="962" y1="1046" x2="980" y2="1046" stroke-width="4"/><line x1="1012" y1="1049" x2="1028" y2="1049" stroke-width="3"/>
<line x1="1070" y1="1052" x2="1088" y2="1052"/><line x1="1118" y1="1052" x2="1135" y2="1052"/><line x1="1170" y1="1052" x2="1188" y2="1052"/><line x1="1222" y1="1052" x2="1238" y2="1052"/>
<line x1="1280" y1="1052" x2="1298" y2="1052"/><line x1="1325" y1="1052" x2="1342" y2="1052"/><line x1="1372" y1="1050" x2="1390" y2="1050"/><line x1="1425" y1="1052" x2="1442" y2="1052"/></g>
<g class="m"><line x1="880" y1="1050" x2="895" y2="1050"/><line x1="930" y1="1051" x2="948" y2="1051"/><line x1="980" y1="1050" x2="996" y2="1050"/><line x1="1028" y1="1050" x2="1044" y2="1050"/>
<line x1="1088" y1="1051" x2="1100" y2="1051"/><line x1="1135" y1="1051" x2="1150" y2="1051"/><line x1="1188" y1="1050" x2="1203" y2="1050"/><line x1="1238" y1="1050" x2="1252" y2="1050"/>
<line x1="1298" y1="1051" x2="1310" y2="1051"/><line x1="1342" y1="1051" x2="1358" y2="1051"/><line x1="1390" y1="1049" x2="1406" y2="1049"/><line x1="1442" y1="1049" x2="1456" y2="1049"/></g>
<g class="k"><line x1="848" y1="1040" x2="882" y2="1040"/><path d="M905 796 V786 H930 V1040"/><line x1="912" y1="1040" x2="930" y2="1040"/><path d="M955 893 V886 H980 V1040"/><line x1="962" y1="1040" x2="980" y2="1040"/><path d="M1005 933 V925 H1028 V1040"/><line x1="1012" y1="1040" x2="1028" y2="1040"/>
<line x1="1055" y1="1040" x2="1090" y2="1040"/><path d="M1108 1032 V1027 H1131 V1040"/><path d="M1158 1044 V1032 H1183 V1040"/><path d="M1210 1038 V1030 H1236 V1040"/>
<line x1="1265" y1="1040" x2="1300" y2="1040"/><path d="M1318 1003 V978 H1338 V1040"/><path d="M1367 1022 V1012 H1388 V1040"/><path d="M1416 1016 V1002 H1440 V1040"/></g>
<g font-size="20"><text x="906" y="787">**</text><text x="962" y="888">*</text><text x="1010" y="928">*</text><text x="1110" y="1028">**</text><text x="1168" y="1034">*</text><text x="1216" y="1032">**</text><text x="1318" y="979">**</text><text x="1374" y="1012">*</text><text x="1425" y="1003">*</text></g>
<g font-size="22"><text x="849" y="1031">n.s.</text><text x="1055" y="1033">n.s.</text><text x="1262" y="1037">n.s.</text></g>
<g font-size="23"><text transform="translate(842,1100) rotate(-50)">H<tspan font-size="15" dy="6">2</tspan><tspan dy="-6">O</tspan></text><text transform="translate(838,1170) rotate(-50)">SCOOP10<tspan font-size="15" dy="-9">B</tspan></text><text transform="translate(895,1160) rotate(-50)">SCOOP12</text><text transform="translate(945,1160) rotate(-50)">SCOOP13</text>
<text transform="translate(1050,1100) rotate(-50)">H<tspan font-size="15" dy="6">2</tspan><tspan dy="-6">O</tspan></text><text transform="translate(1040,1170) rotate(-50)">SCOOP10<tspan font-size="15" dy="-9">B</tspan></text><text transform="translate(1098,1160) rotate(-50)">SCOOP12</text><text transform="translate(1150,1160) rotate(-50)">SCOOP13</text>
<text transform="translate(1258,1100) rotate(-50)">H<tspan font-size="15" dy="6">2</tspan><tspan dy="-6">O</tspan></text><text transform="translate(1248,1170) rotate(-50)">SCOOP10<tspan font-size="15" dy="-9">B</tspan></text><text transform="translate(1306,1160) rotate(-50)">SCOOP12</text><text transform="translate(1358,1160) rotate(-50)">SCOOP13</text></g>
</svg>
</body></html>
